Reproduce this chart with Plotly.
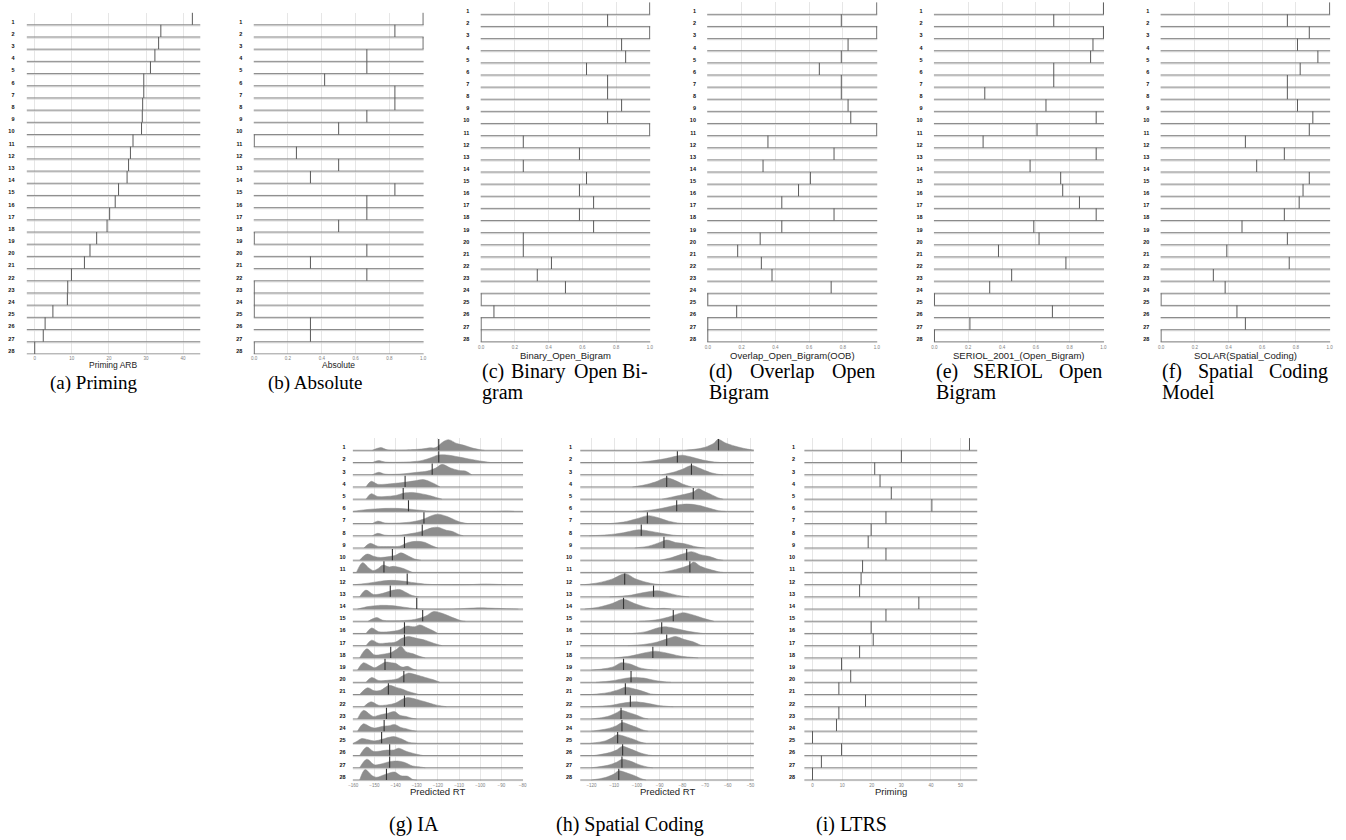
import plotly.graph_objects as go

# ---------------- data ----------------
row_labels = [str(r) for r in range(1, 29)]

priming_arb = [42.5, 34.0, 33.4, 32.4, 31.2, 29.4, 29.4, 29.1, 29.0, 28.8, 26.5, 25.8, 25.3, 24.9,
               22.6, 21.7, 20.2, 19.5, 16.7, 14.9, 13.4, 9.9, 8.9, 8.8, 4.9, 2.8, 2.3, 0.0]
absolute = [1.0, 0.833, 1.0, 0.667, 0.667, 0.417, 0.833, 0.833, 0.667, 0.5, 0.0, 0.25, 0.5, 0.333,
            0.833, 0.667, 0.667, 0.5, 0.0, 0.667, 0.333, 0.667, 0.0, 0.0, 0.0, 0.333, 0.333, 0.0]
binary_ob = [1.0, 0.75, 1.0, 0.833, 0.857, 0.625, 0.75, 0.75, 0.833, 0.75, 1.0, 0.25, 0.583, 0.25,
             0.625, 0.583, 0.667, 0.583, 0.667, 0.25, 0.25, 0.417, 0.333, 0.5, 0.0, 0.076, 0.0, 0.0]
overlap_ob = [1.0, 0.79, 1.0, 0.83, 0.79, 0.66, 0.79, 0.79, 0.83, 0.846, 1.0, 0.356, 0.747, 0.327,
              0.607, 0.537, 0.438, 0.747, 0.438, 0.31, 0.177, 0.317, 0.38, 0.73, 0.0, 0.171, 0.0, 0.0]
seriol = [1.0, 0.706, 1.0, 0.938, 0.924, 0.706, 0.706, 0.298, 0.66, 0.957, 0.607, 0.288, 0.957, 0.566,
          0.747, 0.759, 0.858, 0.957, 0.588, 0.619, 0.379, 0.778, 0.457, 0.327, 0.0, 0.698, 0.21, 0.0]
solar = [1.0, 0.749, 0.879, 0.809, 0.93, 0.825, 0.749, 0.749, 0.809, 0.9, 0.879, 0.5, 0.731, 0.567,
         0.879, 0.842, 0.819, 0.731, 0.48, 0.749, 0.39, 0.76, 0.31, 0.38, 0.0, 0.45, 0.5, 0.0]
ltrs = [53.0, 30.0, 21.0, 22.8, 26.6, 40.3, 24.8, 19.8, 18.8, 24.8, 16.9, 16.4, 15.9, 35.9,
        24.8, 19.8, 20.5, 15.9, 9.8, 12.9, 8.9, 17.9, 8.9, 8.1, 0.0, 9.8, 3.0, 0.0]

# IA predicted-RT densities (knots: x and relative height)
ia_x = [
    [-151, -147, -144, -135, -127, -124, -121, -117.5, -115, -111, -107, -104, -100, -98],
    [-151, -148, -145, -135, -128, -124, -120, -116, -110, -104, -99, -95],
    [-151, -148, -145, -138, -130, -125, -121, -118, -114, -110, -107, -104],
    [-154, -151.5, -148.5, -145, -140, -135, -131, -127, -124, -121, -119],
    [-154, -151.5, -148.5, -145, -140, -136, -132, -128, -124, -120, -118],
    [-160, -155, -148, -142, -136, -130, -124, -120, -92, -88, -84],
    [-151, -148.5, -145, -138, -132, -127, -123, -120, -116, -112, -109, -106],
    [-151, -148.5, -145, -138, -132, -127, -123, -120, -116, -113, -110, -108],
    [-155, -152, -148.5, -143, -138, -134, -130, -126, -123, -120],
    [-157, -153.5, -150, -147, -143, -140, -137.5, -134, -131, -128],
    [-158.5, -155.6, -152.5, -150.5, -148, -146, -143, -141, -139, -136, -134, -132],
    [-159, -153, -147, -142, -137, -131, -125, -120, -105, -98, -92, -88],
    [-157, -154, -150.5, -147, -143, -141, -138, -135, -132, -129],
    [-158, -153, -148, -142, -136, -131, -127, -113, -106, -100, -93, -86, -82],
    [-153, -149, -146, -138, -131, -126, -122, -118, -113, -109, -107],
    [-154, -151.3, -148, -143, -138, -135, -131, -128.5, -125, -122, -120],
    [-154, -151.3, -148, -144, -140, -137, -134, -130, -126, -122, -118],
    [-157, -153.6, -150, -146, -142, -139.5, -137.5, -135, -132, -129, -126],
    [-158, -155.2, -152, -149.8, -147, -145, -142, -140, -137, -134, -132, -130],
    [-154, -151.3, -148, -143, -139, -136, -134, -130, -126, -122, -119],
    [-157, -153.2, -150, -147, -143, -140, -137, -134, -131, -129],
    [-155, -151.6, -148, -144, -140, -137, -134.4, -130, -126, -121, -116],
    [-158, -155.2, -152, -150.5, -147, -144, -140.5, -138, -135, -132, -130],
    [-158, -155.2, -152, -150, -146, -143, -140.5, -137.5, -135, -132, -130],
    [-160, -158, -156, -153, -150, -146, -143, -140.5, -137, -134, -130],
    [-157, -153.6, -150.5, -148, -144, -141, -138.5, -135, -131, -127],
    [-157, -153.6, -150, -147, -143, -139, -136, -132, -129, -126],
    [-157, -154.4, -151, -149, -145, -140.5, -137.5, -134.2, -132, -130],
]
ia_h = [
    [0, 0.22, 0.05, 0.03, 0.12, 0.2, 0.22, 0.7, 0.87, 0.55, 0.38, 0.2, 0.05, 0],
    [0, 0.16, 0.04, 0.04, 0.15, 0.35, 0.6, 0.62, 0.45, 0.25, 0.1, 0],
    [0, 0.2, 0.05, 0.05, 0.2, 0.3, 0.55, 0.85, 0.55, 0.35, 0.3, 0],
    [0, 0.46, 0.22, 0.22, 0.3, 0.4, 0.5, 0.6, 0.45, 0.2, 0],
    [0, 0.45, 0.22, 0.22, 0.3, 0.5, 0.55, 0.45, 0.3, 0.1, 0],
    [0, 0.12, 0.22, 0.25, 0.22, 0.12, 0.03, 0, 0, 0.03, 0],
    [0, 0.2, 0.05, 0.05, 0.15, 0.35, 0.65, 0.77, 0.6, 0.3, 0.1, 0],
    [0, 0.2, 0.05, 0.05, 0.2, 0.4, 0.65, 0.7, 0.45, 0.35, 0.1, 0],
    [0, 0.38, 0.15, 0.12, 0.15, 0.45, 0.55, 0.45, 0.2, 0],
    [0, 0.5, 0.3, 0.22, 0.3, 0.4, 0.6, 0.35, 0.1, 0],
    [0, 0.8, 0.35, 0.15, 0.35, 0.6, 0.45, 0.5, 0.45, 0.3, 0.15, 0],
    [0, 0.12, 0.28, 0.35, 0.3, 0.15, 0.03, 0, 0, 0.05, 0.02, 0],
    [0, 0.55, 0.2, 0.25, 0.45, 0.55, 0.6, 0.35, 0.1, 0],
    [0, 0.2, 0.3, 0.28, 0.15, 0.04, 0, 0, 0.06, 0.1, 0.06, 0.02, 0],
    [0, 0.3, 0.08, 0.05, 0.15, 0.4, 0.8, 0.65, 0.3, 0.05, 0],
    [0, 0.45, 0.15, 0.15, 0.3, 0.6, 0.55, 0.7, 0.45, 0.2, 0],
    [0, 0.45, 0.2, 0.22, 0.3, 0.6, 0.75, 0.6, 0.45, 0.2, 0],
    [0, 0.75, 0.25, 0.3, 0.45, 0.7, 0.95, 0.5, 0.35, 0.15, 0],
    [0, 0.6, 0.35, 0.2, 0.45, 0.65, 0.6, 0.55, 0.25, 0.3, 0.1, 0],
    [0, 0.4, 0.15, 0.18, 0.3, 0.6, 0.75, 0.6, 0.4, 0.2, 0],
    [0, 0.55, 0.3, 0.35, 0.75, 0.6, 0.45, 0.25, 0.1, 0],
    [0, 0.4, 0.12, 0.15, 0.3, 0.6, 0.75, 0.6, 0.4, 0.15, 0],
    [0, 0.7, 0.35, 0.2, 0.35, 0.45, 0.6, 0.3, 0.2, 0.05, 0],
    [0, 0.6, 0.35, 0.25, 0.4, 0.45, 0.55, 0.3, 0.2, 0.05, 0],
    [0, 0.2, 0.4, 0.3, 0.2, 0.35, 0.5, 0.55, 0.35, 0.1, 0],
    [0, 0.7, 0.35, 0.35, 0.45, 0.45, 0.6, 0.35, 0.15, 0],
    [0, 0.7, 0.25, 0.3, 0.5, 0.55, 0.45, 0.15, 0.08, 0],
    [0, 0.85, 0.35, 0.22, 0.45, 0.65, 0.35, 0.3, 0.05, 0],
]
ia_median = [-119.6, -119.6, -122.7, -135.5, -136.4, -133.9, -126.6, -127.4, -135.8, -141.5,
             -145.5, -134.5, -142.5, -130.0, -127.2, -135.8, -135.8, -142.3, -145.0, -136.1,
             -143.4, -135.8, -144.3, -145.4, -146.6, -142.8, -142.8, -144.3]

# Spatial Coding predicted-RT densities
sc_x = [
    [-79, -74, -70, -66, -64.3, -61, -57, -52, -48],
    [-101, -95, -88, -82, -80, -76, -71, -66, -63],
    [-89, -84, -80, -76, -72, -68, -64, -62],
    [-102, -97, -92, -87, -84, -80, -76],
    [-89, -84, -79, -75, -73, -70, -67, -64, -62],
    [-101, -95, -89, -83, -78, -73, -68, -64, -61],
    [-112, -106, -100, -95, -91, -86, -82, -79],
    [-121, -113, -106, -101, -99, -95, -89, -84, -80],
    [-101, -95, -90, -87, -83, -79, -74, -70],
    [-90, -85, -80, -76, -72, -68, -64, -62],
    [-89, -84, -80, -77, -75, -72, -68, -64, -62],
    [-123, -117, -111, -105, -101, -96, -92, -89],
    [-112, -104, -97, -91, -86, -81, -77],
    [-123, -117, -111, -106, -101, -96, -92, -88, -85],
    [-99, -92, -86, -82, -79.5, -75, -70, -66],
    [-102, -96, -91, -88, -84, -78, -73, -71],
    [-104, -97, -91, -86, -83, -79, -75, -72, -70],
    [-110, -103, -97, -92, -87, -81, -75, -73],
    [-120, -114, -110, -107, -103, -99, -94, -91],
    [-118, -111, -106, -102, -97, -92, -87, -85],
    [-120, -113, -108, -105, -101, -98, -94, -91],
    [-120, -112, -106, -101, -96, -91, -86, -84],
    [-120, -113, -109, -107, -104, -100, -97, -95],
    [-120, -113, -109, -106.5, -103, -100, -97, -95],
    [-120.5, -114, -111, -108.8, -105, -101, -98, -96],
    [-119, -113, -109, -106.5, -103, -99, -95, -93],
    [-120, -113, -109, -106.5, -103, -99, -95, -93],
    [-120, -114, -110, -108, -104, -101, -98, -96],
]
sc_h = [
    [0, 0.1, 0.25, 0.6, 0.9, 0.6, 0.35, 0.12, 0],
    [0, 0.1, 0.3, 0.55, 0.6, 0.45, 0.2, 0.05, 0],
    [0, 0.2, 0.45, 0.75, 0.5, 0.2, 0.03, 0],
    [0, 0.15, 0.4, 0.75, 0.6, 0.25, 0],
    [0, 0.2, 0.4, 0.6, 0.85, 0.6, 0.35, 0.1, 0],
    [0, 0.08, 0.25, 0.5, 0.6, 0.5, 0.25, 0.05, 0],
    [0, 0.12, 0.4, 0.65, 0.5, 0.2, 0.05, 0],
    [0, 0.08, 0.25, 0.45, 0.5, 0.4, 0.2, 0.05, 0],
    [0, 0.15, 0.45, 0.65, 0.45, 0.35, 0.1, 0],
    [0, 0.2, 0.5, 0.7, 0.45, 0.3, 0.05, 0],
    [0, 0.2, 0.4, 0.6, 0.85, 0.5, 0.25, 0.05, 0],
    [0, 0.15, 0.45, 0.9, 0.5, 0.2, 0.05, 0],
    [0, 0.1, 0.35, 0.5, 0.3, 0.08, 0],
    [0, 0.15, 0.45, 0.8, 0.45, 0.15, 0.03, 0.06, 0],
    [0, 0.1, 0.35, 0.6, 0.7, 0.5, 0.2, 0],
    [0, 0.15, 0.45, 0.55, 0.45, 0.2, 0.05, 0],
    [0, 0.1, 0.3, 0.6, 0.75, 0.5, 0.3, 0.05, 0],
    [0, 0.15, 0.4, 0.55, 0.4, 0.15, 0.03, 0],
    [0, 0.12, 0.3, 0.6, 0.5, 0.2, 0.03, 0],
    [0, 0.12, 0.3, 0.4, 0.35, 0.15, 0.03, 0],
    [0, 0.15, 0.4, 0.6, 0.45, 0.3, 0.05, 0],
    [0, 0.1, 0.3, 0.4, 0.3, 0.12, 0.02, 0],
    [0, 0.2, 0.5, 0.7, 0.55, 0.3, 0.08, 0],
    [0, 0.2, 0.45, 0.7, 0.5, 0.3, 0.08, 0],
    [0, 0.2, 0.45, 0.7, 0.55, 0.3, 0.08, 0],
    [0, 0.2, 0.45, 0.75, 0.55, 0.25, 0.05, 0],
    [0, 0.2, 0.45, 0.7, 0.55, 0.25, 0.05, 0],
    [0, 0.2, 0.5, 0.75, 0.55, 0.35, 0.1, 0],
]
sc_median = [-64.1, -82.2, -76.0, -86.9, -75.2, -82.5, -95.4, -98.1, -88.1, -78.1, -76.7, -105.4,
             -92.7, -105.9, -84.0, -89.1, -86.9, -93.0, -105.9, -102.6, -105.1, -102.9, -107.0,
             -106.6, -108.5, -106.3, -106.6, -108.0]

axis_titles = ["Priming ARB", "Absolute", "Binary_Open_Bigram", "Overlap_Open_Bigram(OOB)",
               "SERIOL_2001_(Open_Bigram)", "SOLAR(Spatial_Coding)", "Predicted RT", "Predicted RT",
               "Priming"]

# ---------------- layout helpers ----------------
W, H = 1346, 840
N = len(row_labels)
base = [N + 1 - k for k in range(1, N + 1)]   # row 1 on top


def fx(p):
    return p / W


def fy(p):
    return 1 - p / H


# panel: x domain px, y domain px (top, bottom), y range, x range, dtick, tickformat, label gap
panels = [
    dict(xd=(22.7, 197.7), yd=(12.6, 354.4), yr=[0.96, N + 1], xr=[-2.2, 44.7], dt=10, tf="d", gap=10),
    dict(xd=(251, 422.3), yd=(12.6, 354.4), yr=[0.96, N + 1], xr=[-0.004, 1.004], dt=0.2, tf=".1f", gap=9),
    dict(xd=(479.3, 650.3), yd=(2.2, 343.0), yr=[0.9, N + 1], xr=[-0.004, 1.004], dt=0.2, tf=".1f", gap=9),
    dict(xd=(707.3, 878.7), yd=(2.2, 343.0), yr=[0.9, N + 1], xr=[-0.004, 1.004], dt=0.2, tf=".1f", gap=9),
    dict(xd=(935.3, 1106.7), yd=(2.2, 343.0), yr=[0.9, N + 1], xr=[-0.004, 1.004], dt=0.2, tf=".1f", gap=9),
    dict(xd=(1163.3, 1334.3), yd=(2.2, 343.0), yr=[0.9, N + 1], xr=[-0.004, 1.004], dt=0.2, tf=".1f", gap=9),
    dict(xd=(350.7, 522.3), yd=(438.1, 781.2), yr=[0.9, N + 1], xr=[-160.3, -79.7], dt=10, tf="d", gap=5),
    dict(xd=(579.6, 754.4), yd=(438.1, 781.2), yr=[0.9, N + 1], xr=[-125, -48.5], dt=10, tf="d", gap=6),
    dict(xd=(805.0, 979.3), yd=(438.1, 781.2), yr=[0.9, N + 1], xr=[-2.8, 55.7], dt=10, tf="d", gap=7),
]

fig = go.Figure()
layout = dict(
    width=W, height=H, margin=dict(l=0, r=0, t=0, b=0),
    paper_bgcolor="white", plot_bgcolor="white", showlegend=False,
    annotations=[],
)

GRID = "#e6e6e6"
BASE_C = "#8a8a8a"
BASE_LIGHT = "#d6d6d6"
VAL_C = "#5a5a5a"
FILL_C = "#8d8d8d"

for i, p in enumerate(panels):
    n = i + 1
    xa = "x" if n == 1 else f"x{n}"
    ya = "y" if n == 1 else f"y{n}"
    layout["xaxis" if n == 1 else f"xaxis{n}"] = dict(
        domain=[fx(p["xd"][0]), fx(p["xd"][1])], anchor=ya, range=p["xr"],
        showgrid=True, gridcolor=GRID, gridwidth=1, zeroline=False, showline=False,
        tick0=0, dtick=p["dt"], tickformat=p["tf"], ticks="", ticklen=0,
        tickfont=dict(size=4.5, color="#808080", family="Liberation Sans"),
        fixedrange=True,
    )
    layout["yaxis" if n == 1 else f"yaxis{n}"] = dict(
        domain=[fy(p["yd"][1]), fy(p["yd"][0])], anchor=xa, range=p["yr"],
        showgrid=False, zeroline=False, showline=False,
        tickvals=[b + 0.25 for b in base], ticktext=[f"<b>{t}</b>" for t in row_labels],
        ticks="outside", ticklen=p["gap"], tickcolor="rgba(0,0,0,0)",
        tickfont=dict(size=5.5, color="#111111", family="Liberation Sans"),
        fixedrange=True,
    )
    # baselines (dark) and the light rim just under them
    bx, by, lx, ly = [], [], [], []
    for b in base:
        bx += [p["xr"][0], p["xr"][1], None]
        by += [b, b, None]
        lx += [p["xr"][0], p["xr"][1], None]
        ly += [b - 0.09, b - 0.09, None]
    fig.add_trace(go.Scatter(x=lx, y=ly, mode="lines", line=dict(color=BASE_LIGHT, width=1),
                             xaxis=xa, yaxis=ya, hoverinfo="skip"))

    if n in (7, 8):
        dx, dh, med = (ia_x, ia_h, ia_median) if n == 7 else (sc_x, sc_h, sc_median)
        fig.add_trace(go.Scatter(x=bx, y=by, mode="lines", line=dict(color=BASE_C, width=1),
                                 xaxis=xa, yaxis=ya, hoverinfo="skip"))
        for k in range(N):
            b = base[k]
            fig.add_trace(go.Scatter(
                x=dx[k], y=[b + h for h in dh[k]], mode="lines", fill="toself",
                fillcolor=FILL_C, line=dict(color=FILL_C, width=0.5, shape="spline", smoothing=0.9),
                xaxis=xa, yaxis=ya, hoverinfo="skip"))
        mx, my = [], []
        for k in range(N):
            mx += [med[k], med[k], None]
            my += [base[k], base[k] + 0.92, None]
        fig.add_trace(go.Scatter(x=mx, y=my, mode="lines", line=dict(color="#333333", width=1.1),
                                 xaxis=xa, yaxis=ya, hoverinfo="skip"))
    else:
        vals = [priming_arb, absolute, binary_ob, overlap_ob, seriol, solar, None, None, ltrs][i]
        fig.add_trace(go.Scatter(x=bx, y=by, mode="lines", line=dict(color=BASE_C, width=1),
                                 xaxis=xa, yaxis=ya, hoverinfo="skip"))
        vx, vy = [], []
        for k in range(N):
            vx += [vals[k], vals[k], None]
            vy += [base[k], base[k] + 1, None]
        fig.add_trace(go.Scatter(x=vx, y=vy, mode="lines", line=dict(color=VAL_C, width=1),
                                 xaxis=xa, yaxis=ya, hoverinfo="skip"))

    # axis title
    title_py = 364.5 if n <= 2 else (355 if n <= 6 else 791.5)
    layout["annotations"].append(dict(
        text=axis_titles[i], x=fx((p["xd"][0] + p["xd"][1]) / 2), y=fy(title_py),
        xref="paper", yref="paper", showarrow=False, xanchor="center", yanchor="middle",
        font=dict(size=8.5 if n <= 2 else 9.5, color="#222222", family="Liberation Sans")))

# ---------------- sub-captions ----------------
CAP_FONT = dict(size=20, color="#000000", family="Liberation Serif")
CAP_FONT_S = dict(size=19, color="#000000", family="Liberation Serif")
L1, L2 = 371, 392
captions = [
    ("(c)", 479.3, L1, "left"),
    ("Binary", 537.2, L1, "center"),
    ("Open", 594.6, L1, "center"),
    ("Bi-", 650.3, L1, "right"),
    ("gram", 479.3, L2, "left"),
    ("(d)", 707.3, L1, "left"),
    ("Overlap", 782.8, L1, "center"),
    ("Open", 878.7, L1, "right"),
    ("Bigram", 707.3, L2, "left"),
    ("(e)", 935.3, L1, "left"),
    ("SERIOL", 1010.5, L1, "center"),
    ("Open", 1106.7, L1, "right"),
    ("Bigram", 935.3, L2, "left"),
    ("(f)", 1163.3, L1, "left"),
    ("Spatial", 1229.3, L1, "center"),
    ("Coding", 1334.3, L1, "right"),
    ("Model", 1163.3, L2, "left"),
    ("(g) IA", 412, 824, "center"),
    ("(h) Spatial Coding", 630, 824, "center"),
    ("(i) LTRS", 853, 824, "center"),
]
for t, x, y, anc in captions:
    layout["annotations"].append(dict(
        text=t, x=fx(x), y=fy(y), xref="paper", yref="paper", showarrow=False,
        xanchor=anc, yanchor="middle", font=CAP_FONT))
for t, x, y in [("(a) Priming", 91, 383), ("(b) Absolute", 313, 383)]:
    layout["annotations"].append(dict(
        text=t, x=fx(x), y=fy(y), xref="paper", yref="paper", showarrow=False,
        xanchor="center", yanchor="middle", font=CAP_FONT_S))

fig.update_layout(**layout)
fig.write_html("out.html", config={"displayModeBar": False, "staticPlot": True},
               post_script="document.body.style.margin='0px';")
